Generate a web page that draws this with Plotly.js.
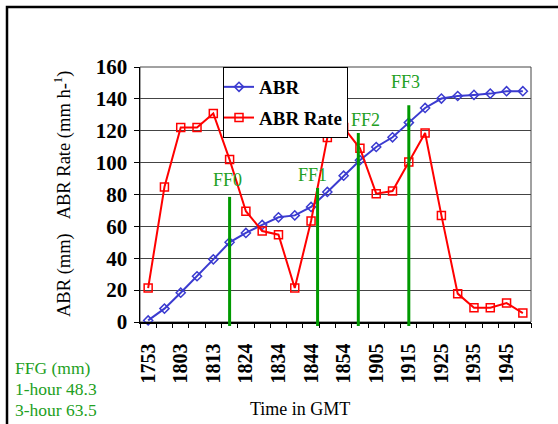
<!DOCTYPE html>
<html>
<head>
<meta charset="utf-8">
<script src="https://cdn.plot.ly/plotly-3.0.1.min.js"></script>
<style>
  html, body { margin: 0; padding: 0; background: #fff; }
  #chart { width: 558px; height: 424px; }
</style>
</head>
<body>
<div id="chart"></div>
<script>
// Observation times (GMT, hhmm); every other one is labelled on the axis
const times = ['1753', '1758', '1803', '1808', '1813', '1819', '1824', '1829',
               '1834', '1839', '1844', '1849', '1854', '1859', '1905', '1910',
               '1915', '1920', '1925', '1930', '1935', '1940', '1945', '1950'];

// Accumulated bias-removed rainfall (mm)
const abr = [1.0, 8.4, 18.4, 28.7, 39.3, 50.0, 55.9, 60.9, 65.7, 66.9, 72.2, 81.6,
             91.8, 101.5, 109.8, 115.9, 125.1, 134.3, 140.2, 141.8, 142.5, 143.3, 144.8, 144.8];

// Rainfall rate (mm h-1)
const abrRate = [21.3, 84.7, 122.0, 122.0, 130.8, 101.9, 69.5, 57.1, 54.8, 21.3, 63.4, 115.7,
                 122.0, 109.0, 80.5, 82.2, 100.4, 118.6, 66.9, 17.8, 9.0, 9.0, 11.9, 5.6];

// Flash-flood forecast markers: position on the time axis (category index) and bar height
const ffNames = ['FF0', 'FF1', 'FF2', 'FF3'];
const ffIndex = [5.0, 10.4, 12.9, 16.0];
const ffHeight = [78.5, 84.1, 118.6, 136.0];

// Flash-flood guidance text
const ffgLines = ['FFG (mm)', '1-hour 48.3', '3-hour 63.5'];

const yMax = 160;
const idx = times.map((_, i) => i);
const labelIdx = idx.filter(i => i % 2 === 0);
const boundaries = [...idx.map(i => i - 0.5), times.length - 0.5];

const SERIF = '"Liberation Serif", "DejaVu Serif", serif';
const GREEN_TEXT = '#22A022';
const GREEN_BAR = '#009A00';

const W = 558, H = 424;
const margin = { l: 140, r: 27, t: 67, b: 102 };
const plotW = W - margin.l - margin.r;
const plotH = H - margin.t - margin.b;
const px = x => (x - margin.l) / plotW;          // page x -> paper x
const py = y => (H - margin.b - y) / plotH;      // page y -> paper y

const traces = [
  {
    x: idx, y: abr, name: 'ABR', type: 'scatter', mode: 'lines+markers',
    line: { color: '#3B3BD0', width: 2 },
    marker: { symbol: 'diamond-open', size: 7, color: '#3B3BD0', line: { width: 1.5 } },
    cliponaxis: false, legendgroup: 'a'
  },
  {
    x: idx, y: abrRate, name: 'ABR Rate', type: 'scatter', mode: 'lines+markers',
    line: { color: '#FF0000', width: 2 },
    marker: { symbol: 'square-open', size: 8, color: '#FF0000', line: { width: 1.5 } },
    cliponaxis: false, legendgroup: 'b'
  },
  // invisible trace that carries the boundary tick marks of the time axis
  {
    x: [boundaries[0], boundaries[boundaries.length - 1]], y: [0, 0],
    xaxis: 'x2', type: 'scatter', mode: 'none', showlegend: false, hoverinfo: 'skip'
  }
];

const shapes = [
  // plot area border
  { type: 'rect', xref: 'paper', yref: 'paper', x0: 0, x1: 1, y0: 0, y1: 1,
    line: { color: '#444', width: 1 }, layer: 'below' },
  // outer frame
  { type: 'rect', xref: 'paper', yref: 'paper',
    x0: px(7), x1: px(W + 20), y0: py(H + 20), y1: py(7),
    line: { color: '#000', width: 2.5 } }
];
ffIndex.forEach((x, i) => {
  shapes.push({
    type: 'line', xref: 'x', yref: 'paper',
    x0: x, x1: x, y0: -4 / plotH, y1: ffHeight[i] / yMax,
    line: { color: GREEN_BAR, width: 3 }
  });
});

const ffShift = [[-2.6, 16.7], [-4.7, 12.7], [6.7, 12.7], [-3.3, 23]];
const annotations = ffNames.map((t, i) => ({
  text: t, xref: 'x', yref: 'y', x: ffIndex[i], y: ffHeight[i],
  xshift: ffShift[i][0], yshift: ffShift[i][1],
  xanchor: 'center', yanchor: 'middle', showarrow: false,
  font: { family: SERIF, size: 18, color: GREEN_TEXT }
}));

const ffgY = [368, 389, 410];
ffgLines.forEach((t, i) => annotations.push({
  text: t, xref: 'paper', yref: 'paper', x: px(13), y: py(ffgY[i]),
  xanchor: 'left', yanchor: 'middle', showarrow: false,
  font: { family: SERIF, size: 17.5, color: GREEN_TEXT }
}));

annotations.push({
  text: 'Time in GMT', xref: 'paper', yref: 'paper', x: px(300), y: py(409),
  xanchor: 'center', yanchor: 'middle', showarrow: false,
  font: { family: SERIF, size: 18, color: '#000' }
});
annotations.push({
  text: 'ABR (mm)&nbsp;&nbsp;&nbsp;ABR Rate (mm h-<sup>1</sup>)', xref: 'paper', yref: 'paper',
  x: px(62), y: py(194), textangle: -90,
  xanchor: 'center', yanchor: 'middle', showarrow: false,
  font: { family: SERIF, size: 18.5, color: '#000' }
});

const layout = {
  width: W, height: H, margin: margin,
  paper_bgcolor: '#fff', plot_bgcolor: '#fff',
  showlegend: true,
  legend: {
    x: px(223), y: 1, xanchor: 'left', yanchor: 'top',
    bgcolor: '#fff', bordercolor: '#000', borderwidth: 1,
    font: { family: SERIF, size: 19, color: '#000', weight: 'bold' },
    traceorder: 'grouped', tracegroupgap: 3, itemwidth: 30, indentation: -5
  },
  xaxis: {
    type: 'linear', range: [boundaries[0], boundaries[boundaries.length - 1]],
    tickmode: 'array', tickvals: labelIdx, ticktext: labelIdx.map(i => times[i]),
    ticks: '', tickangle: -90, ticklabelstandoff: 12,
    tickfont: { family: SERIF, size: 20, color: '#000', weight: 'bold' },
    showline: true, linecolor: '#000', linewidth: 1.5,
    showgrid: false, zeroline: false, fixedrange: true
  },
  xaxis2: {
    type: 'linear', overlaying: 'x', anchor: 'y', side: 'bottom',
    range: [boundaries[0], boundaries[boundaries.length - 1]],
    tickmode: 'array', tickvals: boundaries, ticks: 'outside', ticklen: 5,
    tickcolor: '#000', tickwidth: 1, showticklabels: false,
    showline: false, showgrid: false, zeroline: false
  },
  yaxis: {
    range: [0, yMax], dtick: 20, tick0: 0,
    ticks: 'outside', ticklen: 5, tickcolor: '#000', ticklabelstandoff: 2,
    tickfont: { family: SERIF, size: 21, color: '#000', weight: 'bold' },
    showline: true, linecolor: '#000', linewidth: 1.5,
    showgrid: true, gridcolor: '#444', gridwidth: 1, zeroline: false
  },
  shapes: shapes,
  annotations: annotations
};

Plotly.newPlot('chart', traces, layout, { staticPlot: true, displayModeBar: false });
</script>
</body>
</html>
